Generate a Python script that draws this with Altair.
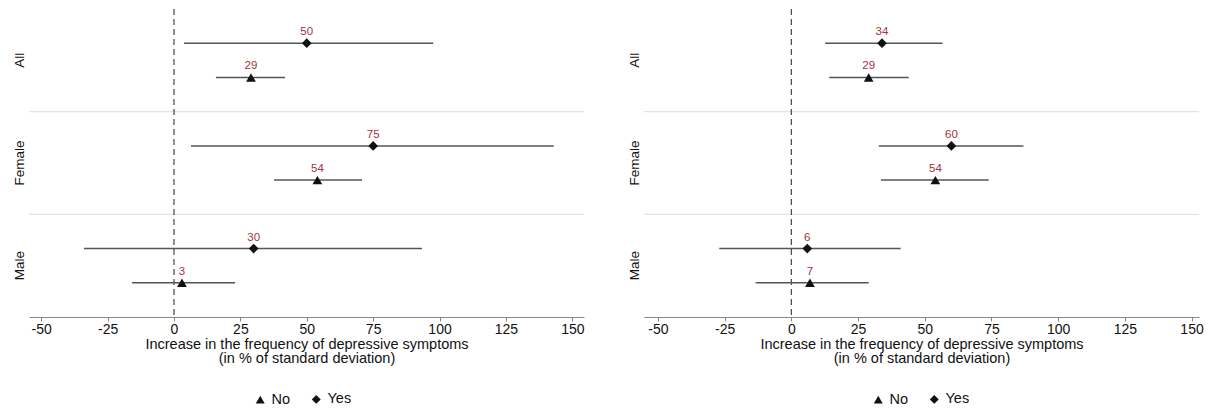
import altair as alt
import pandas as pd

groups = ["All", "All", "Female", "Female", "Male", "Male"]
series = ["Yes", "No", "Yes", "No", "Yes", "No"]

left_est = [50, 29, 75, 54, 30, 3]
left_lo = [3.8, 15.8, 6.4, 37.7, -33.9, -15.8]
left_hi = [97.6, 41.8, 143.0, 70.8, 93.4, 23.0]

right_est = [34, 29, 60, 54, 6, 7]
right_lo = [12.7, 14.2, 32.8, 33.6, -27.0, -13.4]
right_hi = [56.7, 44.0, 87.0, 74.0, 41.0, 29.0]

tick_values = [-50, -25, 0, 25, 50, 75, 100, 125, 150]
group_order = ["All", "Female", "Male"]
series_order = ["Yes", "No"]
separators = ["Female", "Male"]
x_title = ["Increase in the frequency of depressive symptoms", "(in % of standard deviation)"]

FONT = "Liberation Sans"
RED = "#a3333a"


def panel(est, lo, hi, domain, legend_x):
    df = pd.DataFrame({"group": groups, "series": series, "est": est, "lo": lo, "hi": hi})
    sep_df = pd.DataFrame({"group": separators})
    zero_df = pd.DataFrame({"zero": [0]})

    xscale = alt.Scale(domain=domain, nice=False, zero=False)
    yenc = alt.Y(
        "group:N",
        sort=group_order,
        scale=alt.Scale(domain=group_order, paddingInner=0, paddingOuter=0),
        axis=alt.Axis(title=None, labelAngle=-90, ticks=False, domain=False, grid=False,
                      labelFontSize=13.5, labelPadding=3, labelColor="#111", labelFont=FONT,
                      minExtent=20, maxExtent=20),
    )
    yoff = alt.YOffset("series:N", sort=series_order,
                       scale=alt.Scale(domain=series_order, paddingInner=0, paddingOuter=0.5))
    xaxis = alt.Axis(values=tick_values, title=x_title, grid=False, domainColor="#888",
                     tickColor="#888", tickSize=4, labelFontSize=14, titleFontSize=14.5,
                     titleFontWeight="normal", labelColor="#111", titleColor="#111",
                     labelFont=FONT, titleFont=FONT, titlePadding=1, labelPadding=1,
                     titleLineHeight=14, labelExpr="toString(datum.value)")

    seps = alt.Chart(sep_df).mark_rule(color="#e4e4e4", strokeWidth=1.2).encode(
        y=alt.Y("group:N", sort=group_order, bandPosition=0,
                scale=alt.Scale(domain=group_order, paddingInner=0, paddingOuter=0))
    )
    zero = alt.Chart(zero_df).mark_rule(color="#222", strokeDash=[6, 4], strokeWidth=1).encode(
        x=alt.X("zero:Q", scale=xscale, axis=xaxis)
    )
    bars = alt.Chart(df).mark_rule(color="#555", strokeWidth=1.5).encode(
        x=alt.X("lo:Q", scale=xscale, axis=xaxis), x2="hi:Q", y=yenc, yOffset=yoff
    )
    pts = alt.Chart(df).mark_point(filled=True, opacity=1, color="#111", size=95).encode(
        x=alt.X("est:Q", scale=xscale, axis=xaxis), y=yenc, yOffset=yoff,
        shape=alt.Shape("series:N", sort=["No", "Yes"],
                        scale=alt.Scale(domain=["No", "Yes"], range=["triangle-up", "diamond"]),
                        legend=alt.Legend(title=None, orient="none", direction="horizontal",
                                          legendX=legend_x, legendY=383, labelFontSize=14.5,
                                          labelFont=FONT, labelColor="#111", symbolSize=80,
                                          symbolFillColor="#111", symbolStrokeColor="#111",
                                          columnPadding=17, labelOffset=4)),
    )
    labels = alt.Chart(df).mark_text(color=RED, dy=-11, fontSize=11.5, font=FONT).encode(
        x=alt.X("est:Q", scale=xscale, axis=xaxis), y=yenc, yOffset=yoff,
        text=alt.Text("est:Q", format="d"),
    )
    return alt.layer(seps, zero, bars, pts, labels).properties(width=555, height=308)


left = panel(left_est, left_lo, left_hi, [-54.6, 154.4], 224)
right = panel(right_est, right_lo, right_hi, [-55.2, 152.8], 227)

chart = alt.hconcat(left, right, spacing=37).resolve_scale(
    x="independent", shape="independent"
).resolve_legend(shape="independent").properties(padding=0).configure_view(
    stroke="transparent"
)

chart.save("out.html", embed_options={"renderer": "svg", "actions": False})
